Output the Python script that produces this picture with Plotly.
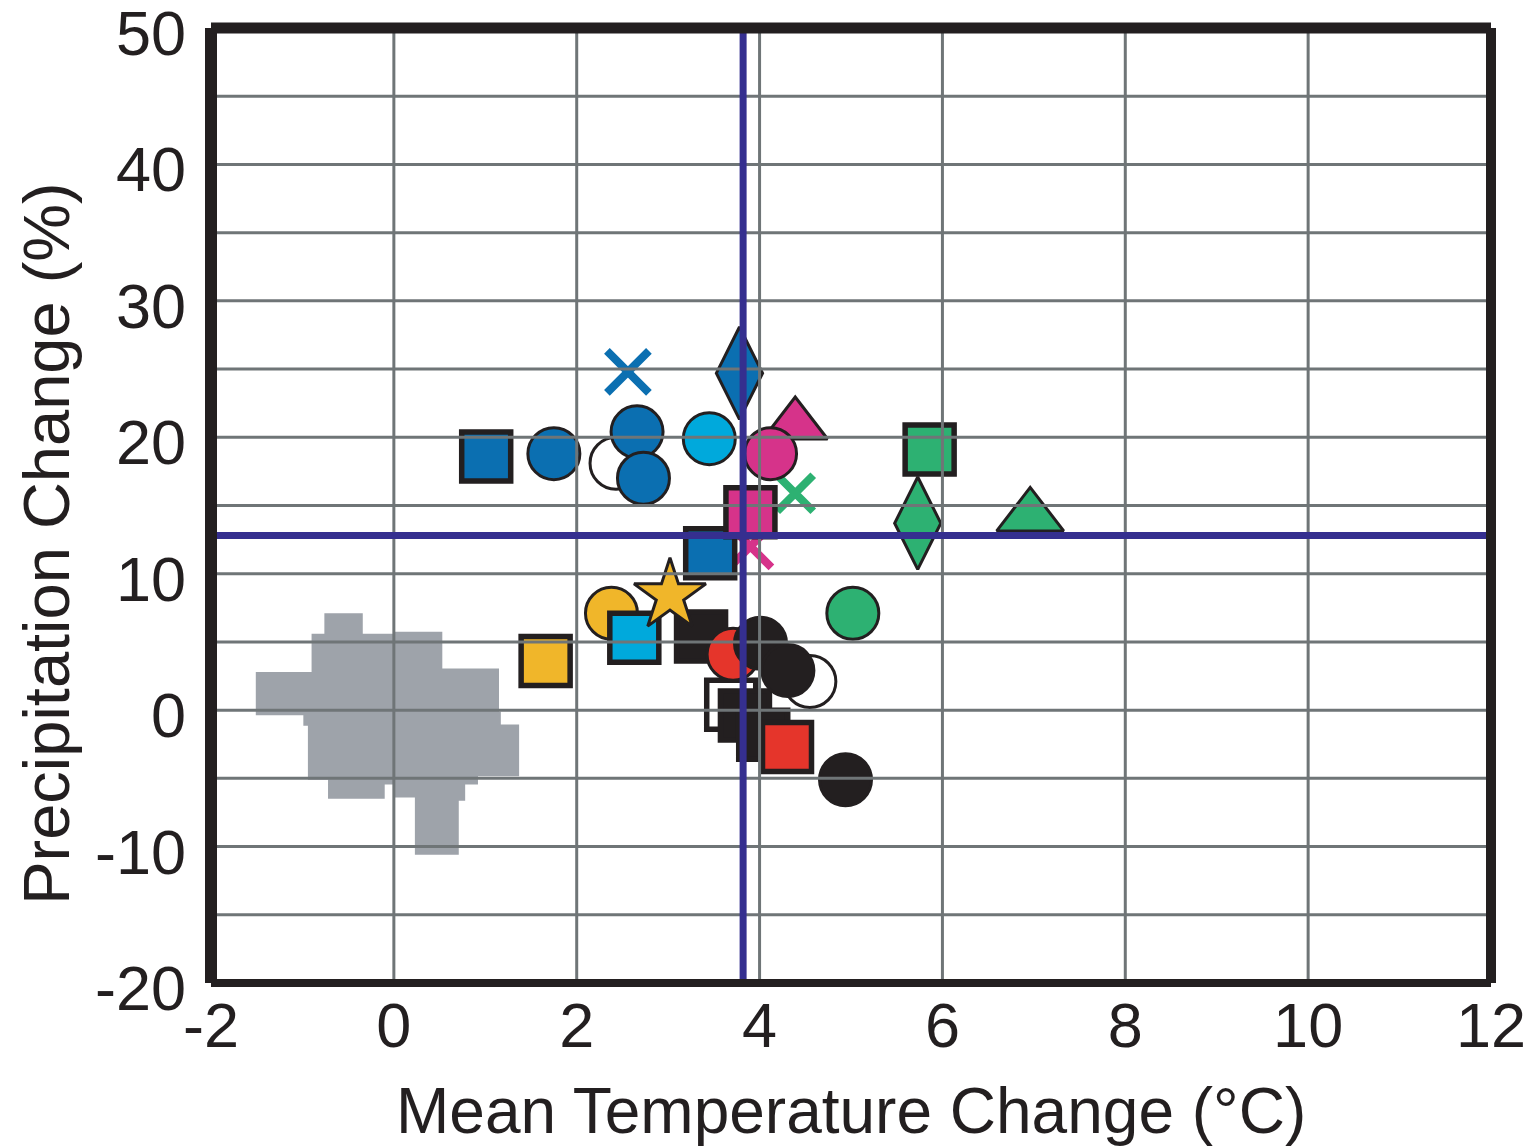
import plotly.graph_objects as go

# ---------------- data ----------------
x_ticks = [-2, 0, 2, 4, 6, 8, 10, 12]
x_tick_labels = ["-2", "0", "2", "4", "6", "8", "10", "12"]
y_ticks = [-20, -10, 0, 10, 20, 30, 40, 50]
y_tick_labels = ["-20", "-10", "0", "10", "20", "30", "40", "50"]
x_grid = [0, 2, 4, 6, 8, 10]
y_grid = [-15, -10, -5, 0, 5, 10, 15, 20, 25, 30, 35, 40, 45]

# outline of the grey (natural variability) region
var_x = [-0.76, -0.34, -0.34, 0.0, 0.0, 0.53, 0.53, 1.15, 1.15, 1.17, 1.17, 1.37, 1.37,
         0.92, 0.92, 0.78, 0.78, 0.71, 0.71, 0.23, 0.23, 0.0, 0.0, -0.1, -0.1, -0.72,
         -0.72, -0.94, -0.94, -0.99, -0.99, -1.51, -1.51, -0.9, -0.9, -0.76, -0.76]
var_y = [7.1, 7.1, 5.6, 5.6, 5.75, 5.75, 3.05, 3.05, -0.1, -0.1, -1.05, -1.05, -4.85,
         -4.85, -5.45, -5.45, -6.65, -6.65, -10.6, -10.6, -6.4, -6.4, -5.45, -5.45, -6.5, -6.5,
         -5.1, -5.1, -1.15, -1.15, -0.37, -0.37, 2.8, 2.8, 5.6, 5.6, 7.1]

mean_temp = 3.82
mean_precip = 12.8

white_circle_x = [2.43, 4.55]
white_circle_y = [18.1, 2.1]
white_square_x = [3.69]
white_square_y = [0.4]
magenta_x_x = [3.90]
magenta_x_y = [12.0]
blue_x_x = [2.56]
blue_x_y = [24.8]
green_x_x = [4.39]
green_x_y = [15.9]
black_square_x = [3.36, 3.84, 4.04]
black_square_y = [5.4, -0.4, -1.8]
yellow_circle_x = [2.38]
yellow_circle_y = [7.1]
yellow_square_x = [1.66]
yellow_square_y = [3.6]
cyan_square_x = [2.63]
cyan_square_y = [5.3]
yellow_star_x = [3.02]
yellow_star_y = [8.4]
red_circle_x = [3.71]
red_circle_y = [4.1]
black_circle_x = [4.01, 4.31, 4.94]
black_circle_y = [4.9, 2.9, -5.1]
red_square_x = [4.30]
red_square_y = [-2.7]
blue_square_x = [1.01, 3.46]
blue_square_y = [18.6, 11.5]
blue_circle_x = [1.75, 2.66, 2.73]
blue_circle_y = [18.8, 20.4, 17.0]
cyan_circle_x = [3.45]
cyan_circle_y = [19.9]
blue_diamond_x = [3.78]
blue_diamond_y = [24.7]
magenta_triangle_x = [4.39]
magenta_triangle_y = [20.9]
magenta_circle_x = [4.12]
magenta_circle_y = [18.8]
magenta_square_x = [3.90]
magenta_square_y = [14.5]
green_square_x = [5.86]
green_square_y = [19.1]
green_diamond_x = [5.73]
green_diamond_y = [13.7]
green_triangle_x = [6.96]
green_triangle_y = [14.2]
green_circle_x = [5.02]
green_circle_y = [7.1]

# ---------------- style ----------------
INK = "#231f20"
BLUE = "#0b6fb1"
CYAN = "#00a9dc"
MAGENTA = "#d6338a"
GREEN = "#2db172"
YELLOW = "#f0b62a"
RED = "#e5352b"
GREY = "#9ea3aa"
GRID = "#6f7577"
NAVY = "#352f8f"
FONT = "Liberation Sans, Arial, Helvetica, sans-serif"

fig = go.Figure()

fig.add_trace(go.Scatter(x=var_x, y=var_y, mode="lines", fill="toself",
                         fillcolor=GREY, line=dict(width=0, color=GREY),
                         hoverinfo="skip"))


def pts(x, y, symbol, color, size, lw, lc=INK):
    fig.add_trace(go.Scatter(
        x=x, y=y, mode="markers",
        marker=dict(symbol=symbol, color=color, size=size,
                    line=dict(width=lw, color=lc))))


CIRC, CLW = 52, 3
SQ, SLW = 49, 5.5

pts(white_circle_x, white_circle_y, "circle", "white", CIRC, CLW)
pts(white_square_x, white_square_y, "square", "white", SQ, SLW)
pts(magenta_x_x, magenta_x_y, "x-thin", MAGENTA, 42, 8, MAGENTA)
pts(blue_x_x, blue_x_y, "x-thin", BLUE, 42, 8, BLUE)
pts(green_x_x, green_x_y, "x-thin", GREEN, 36, 8, GREEN)
pts(black_square_x, black_square_y, "square", INK, SQ, SLW)
pts(yellow_circle_x, yellow_circle_y, "circle", YELLOW, CIRC, CLW)
pts(yellow_square_x, yellow_square_y, "square", YELLOW, SQ, SLW)
pts(cyan_square_x, cyan_square_y, "square", CYAN, SQ, SLW)
pts(yellow_star_x, yellow_star_y, "star", YELLOW, 54, 3)
pts(red_circle_x, red_circle_y, "circle", RED, CIRC, CLW)
pts(black_circle_x, black_circle_y, "circle", INK, CIRC, CLW)
pts(red_square_x, red_square_y, "square", RED, SQ, SLW)
pts(blue_square_x, blue_square_y, "square", BLUE, SQ, SLW)
pts(blue_circle_x, blue_circle_y, "circle", BLUE, CIRC, CLW)
pts(cyan_circle_x, cyan_circle_y, "circle", CYAN, CIRC, CLW)
pts(blue_diamond_x, blue_diamond_y, "diamond-tall", BLUE, 66, 3)
pts(magenta_triangle_x, magenta_triangle_y, "triangle-up", MAGENTA, 56, 3)
pts(magenta_circle_x, magenta_circle_y, "circle", MAGENTA, CIRC, CLW)
pts(magenta_square_x, magenta_square_y, "square", MAGENTA, SQ, SLW)
pts(green_square_x, green_square_y, "square", GREEN, SQ, SLW)
pts(green_diamond_x, green_diamond_y, "diamond-tall", GREEN, 66, 3)
pts(green_triangle_x, green_triangle_y, "triangle-up", GREEN, 58, 3)
pts(green_circle_x, green_circle_y, "circle", GREEN, CIRC, CLW)

# grid drawn above the markers, as in the original
gx, gy = [], []
for v in x_grid:
    gx += [v, v, None]
    gy += [y_ticks[0], y_ticks[-1], None]
for v in y_grid:
    gx += [x_ticks[0], x_ticks[-1], None]
    gy += [v, v, None]
fig.add_trace(go.Scatter(x=gx, y=gy, mode="lines",
                         line=dict(color=GRID, width=3), hoverinfo="skip"))

# mean reference lines
fig.add_trace(go.Scatter(x=[mean_temp, mean_temp, None, x_ticks[0], x_ticks[-1]],
                         y=[y_ticks[0], y_ticks[-1], None, mean_precip, mean_precip],
                         mode="lines", line=dict(color=NAVY, width=7),
                         hoverinfo="skip"))

# frame
for (x0, y0, x1, y1, w) in [(0, 0, 0, 1, 12), (0, 1, 1, 1, 11),
                            (1, 0, 1, 1, 10), (0, 0, 1, 0, 8)]:
    fig.add_shape(type="line", xref="paper", yref="paper",
                  x0=x0, y0=y0, x1=x1, y1=y1,
                  line=dict(color=INK, width=w), layer="above")

fig.add_annotation(text="Mean Temperature Change (°C)", xref="paper", yref="paper",
                   x=0.5, y=-0.134, xanchor="center", yanchor="middle",
                   showarrow=False, font=dict(family=FONT, size=64, color=INK))
fig.add_annotation(text="Precipitation Change (%)", xref="paper", yref="paper",
                   x=-0.128, y=0.46, xanchor="center", yanchor="middle",
                   textangle=-90, showarrow=False,
                   font=dict(family=FONT, size=65, color=INK))

# the page body adds an 8 px offset; size the figure so the plot lands in place
fig.update_layout(
    width=1529, height=1138,
    margin=dict(l=203, r=46, t=20, b=163, pad=0, autoexpand=False),
    paper_bgcolor="white", plot_bgcolor="white",
    showlegend=False,
    font=dict(family=FONT, size=63, color=INK),
)
fig.update_xaxes(range=[x_ticks[0], x_ticks[-1]], tickvals=x_ticks,
                 ticktext=x_tick_labels, automargin=False,
                 showgrid=False, zeroline=False, showline=False, ticks="",
                 ticklabelstandoff=0, ticklabeloverflow="allow",
                 tickfont=dict(family=FONT, size=63, color=INK))
fig.update_yaxes(range=[y_ticks[0], y_ticks[-1]], tickvals=y_ticks,
                 ticktext=y_tick_labels, automargin=False,
                 showgrid=False, zeroline=False, showline=False, ticks="",
                 ticklabelstandoff=24, ticklabelshift=5, ticklabeloverflow="allow",
                 tickfont=dict(family=FONT, size=63, color=INK))

fig.write_html("out.html")
